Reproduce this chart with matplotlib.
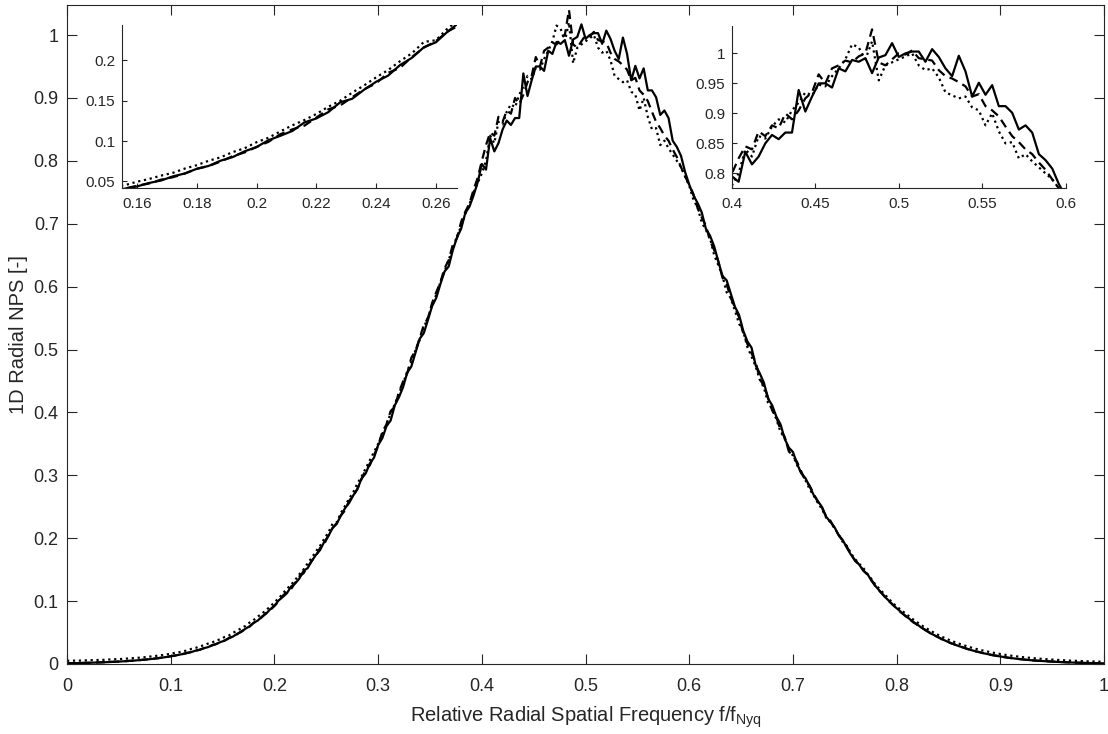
import matplotlib
matplotlib.use('Agg')
import matplotlib.pyplot as plt
from matplotlib.ticker import FuncFormatter
import numpy as np

# relative radial frequency grid (251 radial bins between 0 and f_Nyq)
freq = np.linspace(0, 1, 251)

nps_solid = [
    0.0010, 0.0011, 0.0013, 0.0014, 0.0016, 0.0018, 0.0020, 0.0022, 0.0025, 0.0027,
    0.0030, 0.0033, 0.0036, 0.0040, 0.0044, 0.0048, 0.0053, 0.0058, 0.0064, 0.0070,
    0.0077, 0.0084, 0.0093, 0.0101, 0.0111, 0.0122, 0.0134, 0.0146, 0.0160, 0.0175,
    0.0190, 0.0212, 0.0226, 0.0251, 0.0268, 0.0298, 0.0318, 0.0349, 0.0371, 0.0410,
    0.0436, 0.0479, 0.0509, 0.0561, 0.0597, 0.0655, 0.0691, 0.0756, 0.0800, 0.0872,
    0.0925, 0.1010, 0.1065, 0.1125, 0.1230, 0.1280, 0.1358, 0.1481, 0.1524, 0.1637,
    0.1735, 0.1811, 0.1942, 0.2033, 0.2164, 0.2225, 0.2360, 0.2475, 0.2560, 0.2680,
    0.2780, 0.2950, 0.3030, 0.3190, 0.3280, 0.3480, 0.3590, 0.3780, 0.3870, 0.4110,
    0.4240, 0.4400, 0.4630, 0.4730, 0.4950, 0.5170, 0.5260, 0.5470, 0.5690, 0.5820,
    0.6040, 0.6240, 0.6320, 0.6580, 0.6780, 0.6920, 0.7170, 0.7270, 0.7450, 0.7660,
    0.795, 0.786, 0.836, 0.815, 0.828, 0.850, 0.864, 0.857, 0.868, 0.868,
    0.939, 0.903, 0.928, 0.950, 0.950, 0.943, 0.975, 0.970, 0.989, 0.986,
    0.992, 0.967, 0.993, 0.997, 1.017, 0.994, 1.000, 1.003, 1.003, 0.986,
    1.007, 0.994, 0.975, 0.962, 0.996, 0.970, 0.928, 0.951, 0.931, 0.947,
    0.912, 0.912, 0.901, 0.873, 0.880, 0.868, 0.832, 0.822, 0.808, 0.782,
    0.762,
    0.745, 0.733, 0.718, 0.692, 0.681, 0.664, 0.640, 0.617, 0.610, 0.589,
    0.568, 0.555, 0.530, 0.513, 0.503, 0.475, 0.462, 0.447, 0.422, 0.411,
    0.393, 0.381, 0.358, 0.344, 0.337, 0.318, 0.303, 0.2955, 0.2825, 0.2685,
    0.2590, 0.2495, 0.2340, 0.2260, 0.2175, 0.2050, 0.1970, 0.1845, 0.1735, 0.1650,
    0.1575, 0.1480, 0.1425, 0.1315, 0.1230, 0.1155, 0.1075, 0.1013, 0.0943, 0.0885,
    0.0831, 0.0765, 0.0722, 0.0661, 0.0626, 0.0575, 0.0540, 0.0491, 0.0460, 0.0424,
    0.0392, 0.0362, 0.0334, 0.0308, 0.0284, 0.0262, 0.0240, 0.0220, 0.0202, 0.0186,
    0.0170, 0.0156, 0.0142, 0.0130, 0.0119, 0.0108, 0.0098, 0.0090, 0.0082, 0.0075,
    0.0068, 0.0062, 0.0056, 0.0051, 0.0047, 0.0043, 0.0039, 0.0035, 0.0032, 0.0029,
    0.0026, 0.0024, 0.0021, 0.0019, 0.0017, 0.0015, 0.0014, 0.0012, 0.0011, 0.0010,
]

nps_dashed = [
    0.0012, 0.0012, 0.0013, 0.0015, 0.0016, 0.0019, 0.0020, 0.0023, 0.0025, 0.0028,
    0.0031, 0.0033, 0.0037, 0.0040, 0.0045, 0.0049, 0.0053, 0.0059, 0.0064, 0.0071,
    0.0077, 0.0086, 0.0092, 0.0103, 0.0111, 0.0124, 0.0133, 0.0148, 0.0159, 0.0177,
    0.0190, 0.0211, 0.0227, 0.0252, 0.0270, 0.0298, 0.0318, 0.0350, 0.0373, 0.0410,
    0.0445, 0.0472, 0.0520, 0.0550, 0.0596, 0.0655, 0.0690, 0.0745, 0.0812, 0.0858,
    0.0925, 0.0990, 0.1085, 0.1145, 0.1190, 0.1290, 0.1393, 0.1441, 0.1544, 0.1642,
    0.1715, 0.1846, 0.1907, 0.2043, 0.2159, 0.2240, 0.2360, 0.2440, 0.2595, 0.2675,
    0.2785, 0.2940, 0.3090, 0.3160, 0.3320, 0.3470, 0.3690, 0.3810, 0.4020, 0.4090,
    0.4320, 0.4490, 0.4620, 0.4870, 0.4980, 0.5180, 0.5390, 0.5500, 0.5740, 0.5910,
    0.6070, 0.6290, 0.6420, 0.6670, 0.6770, 0.7030, 0.7190, 0.7320, 0.7540, 0.7730,
    0.800, 0.825, 0.845, 0.840, 0.870, 0.862, 0.880, 0.875, 0.900, 0.890,
    0.905, 0.925, 0.935, 0.965, 0.950, 0.975, 0.980, 0.988, 0.985, 0.995,
    1.000, 1.040, 0.985, 0.980, 0.990, 1.000, 0.998, 1.005, 0.992, 0.990,
    0.988, 0.972, 0.962, 0.958, 0.952, 0.945, 0.928, 0.932, 0.912, 0.905,
    0.895, 0.878, 0.862, 0.852, 0.840, 0.832, 0.818, 0.806, 0.790, 0.775,
    0.762,
    0.747, 0.725, 0.710, 0.697, 0.673, 0.658, 0.640, 0.614, 0.604, 0.582,
    0.567, 0.551, 0.526, 0.509, 0.494, 0.480, 0.453, 0.442, 0.423, 0.403,
    0.392, 0.372, 0.361, 0.338, 0.331, 0.321, 0.306, 0.292, 0.2835, 0.2705,
    0.2575, 0.2480, 0.2345, 0.2280, 0.2160, 0.2050, 0.1955, 0.1865, 0.1740, 0.1635,
    0.1580, 0.1485, 0.1415, 0.1330, 0.1220, 0.1150, 0.1085, 0.1005, 0.0948, 0.0885,
    0.0820, 0.0774, 0.0712, 0.0671, 0.0618, 0.0581, 0.0532, 0.0499, 0.0455, 0.0427,
    0.0389, 0.0365, 0.0331, 0.0310, 0.0282, 0.0264, 0.0239, 0.0222, 0.0201, 0.0187,
    0.0169, 0.0157, 0.0141, 0.0131, 0.0118, 0.0109, 0.0098, 0.0091, 0.0082, 0.0076,
    0.0068, 0.0063, 0.0056, 0.0052, 0.0047, 0.0044, 0.0039, 0.0036, 0.0032, 0.0030,
    0.0026, 0.0025, 0.0021, 0.0020, 0.0017, 0.0016, 0.0014, 0.0013, 0.0011, 0.0011,
]

nps_dotted = [
    0.0052, 0.0050, 0.0054, 0.0053, 0.0057, 0.0057, 0.0061, 0.0061, 0.0066, 0.0066,
    0.0071, 0.0072, 0.0077, 0.0079, 0.0085, 0.0087, 0.0094, 0.0097, 0.0105, 0.0109,
    0.0118, 0.0123, 0.0134, 0.0141, 0.0152, 0.0162, 0.0176, 0.0186, 0.0202, 0.0215,
    0.0240, 0.0256, 0.0280, 0.0297, 0.0325, 0.0343, 0.0375, 0.0393, 0.0430, 0.0452,
    0.0495, 0.0528, 0.0570, 0.0605, 0.0658, 0.0700, 0.0755, 0.0798, 0.0862, 0.0910,
    0.0985, 0.1040, 0.1120, 0.1195, 0.1260, 0.1335, 0.1425, 0.1500, 0.1600, 0.1690,
    0.1790, 0.1880, 0.1990, 0.2090, 0.2230, 0.2250, 0.2400, 0.2510, 0.2630, 0.2730,
    0.2870, 0.2980, 0.3110, 0.3240, 0.3370, 0.3500, 0.3660, 0.3810, 0.3980, 0.4130,
    0.4300, 0.4460, 0.4650, 0.4800, 0.4990, 0.5150, 0.5350, 0.5510, 0.5710, 0.5870,
    0.6070, 0.6240, 0.6430, 0.6600, 0.6800, 0.6960, 0.7150, 0.7310, 0.7500, 0.7650,
    0.780, 0.800, 0.840, 0.828, 0.862, 0.858, 0.878, 0.890, 0.885, 0.905,
    0.918, 0.935, 0.930, 0.948, 0.945, 0.962, 0.975, 0.990, 1.015, 1.010,
    0.990, 1.020, 0.955, 0.980, 0.985, 0.990, 0.995, 1.000, 0.980, 0.972,
    0.975, 0.960, 0.935, 0.930, 0.925, 0.928, 0.910, 0.905, 0.880, 0.900,
    0.870, 0.850, 0.852, 0.825, 0.832, 0.820, 0.810, 0.800, 0.790, 0.775,
    0.760,
    0.738, 0.726, 0.702, 0.690, 0.677, 0.650, 0.634, 0.617, 0.591, 0.582,
    0.562, 0.541, 0.529, 0.504, 0.489, 0.473, 0.452, 0.439, 0.415, 0.405,
    0.389, 0.369, 0.359, 0.341, 0.331, 0.316, 0.3035, 0.2925, 0.2780, 0.2675,
    0.2560, 0.2460, 0.2325, 0.2255, 0.2160, 0.2055, 0.1940, 0.1875, 0.1755, 0.1665,
    0.1590, 0.1520, 0.1425, 0.1345, 0.1250, 0.1185, 0.1110, 0.1045, 0.0970, 0.0915,
    0.0860, 0.0808, 0.0755, 0.0706, 0.0660, 0.0615, 0.0573, 0.0534, 0.0497, 0.0462,
    0.0430, 0.0400, 0.0372, 0.0347, 0.0323, 0.0301, 0.0280, 0.0260, 0.0242, 0.0226,
    0.0210, 0.0196, 0.0182, 0.0170, 0.0159, 0.0147, 0.0137, 0.0128, 0.0120, 0.0112,
    0.0104, 0.0098, 0.0091, 0.0085, 0.0081, 0.0076, 0.0071, 0.0067, 0.0063, 0.0059,
    0.0056, 0.0053, 0.0050, 0.0047, 0.0044, 0.0042, 0.0040, 0.0038, 0.0036, 0.0035,
]

main_ticks = [0, 0.1, 0.2, 0.3, 0.4, 0.5, 0.6, 0.7, 0.8, 0.9, 1]
inset1_xticks = [0.16, 0.18, 0.2, 0.22, 0.24, 0.26]
inset1_yticks = [0.05, 0.1, 0.15, 0.2]
inset2_xticks = [0.4, 0.45, 0.5, 0.55, 0.6]
inset2_yticks = [0.8, 0.85, 0.9, 0.95, 1]

AX_COLOR = '#262626'
LW = 1.6

plt.rcParams['font.family'] = ['Liberation Sans', 'DejaVu Sans']
plt.rcParams['mathtext.fontset'] = 'custom'
plt.rcParams['mathtext.rm'] = 'Liberation Sans'
plt.rcParams['mathtext.it'] = 'Liberation Sans'


def g_fmt(v, pos):
    return '%g' % v


def draw_curves(ax):
    ax.plot(freq, nps_solid, color='black', linestyle='-', linewidth=LW)
    ax.plot(freq, nps_dashed, color='black', linestyle='--', linewidth=LW,
            dashes=(4, 2.5))
    ax.plot(freq, nps_dotted, color='black', linestyle=':', linewidth=LW)


def style_axes(ax, size, ticklen, mirror, xpad, ypad):
    for side in ax.spines:
        ax.spines[side].set_color(AX_COLOR)
        ax.spines[side].set_linewidth(0.8)
    if not mirror:
        ax.spines['top'].set_visible(False)
        ax.spines['right'].set_visible(False)
    ax.tick_params(direction='in', length=ticklen, width=0.8, colors=AX_COLOR,
                   labelsize=size, top=mirror, right=mirror)
    ax.tick_params(axis='x', pad=xpad)
    ax.tick_params(axis='y', pad=ypad)
    ax.xaxis.set_major_formatter(FuncFormatter(g_fmt))
    ax.yaxis.set_major_formatter(FuncFormatter(g_fmt))


def main():
    fig = plt.figure(figsize=(11.08, 7.34), dpi=100)

    ax = fig.add_axes([0.0605, 0.0954, 0.936, 0.898])
    draw_curves(ax)
    ax.set_xlim(0, 1)
    ax.set_ylim(0, 1.048)
    ax.set_xticks(main_ticks)
    ax.set_yticks(main_ticks)
    style_axes(ax, 13, 7.5, True, 10, 6)
    ax.set_xlabel(r'Relative Radial Spatial Frequency f/f$_{\rm Nyq}$',
                  fontsize=14.5, color=AX_COLOR, labelpad=7)
    ax.set_ylabel('1D Radial NPS [-]', fontsize=14.5, color=AX_COLOR, labelpad=4)

    # inset: low-frequency flank
    ax1 = fig.add_axes([0.1101, 0.7442, 0.3022, 0.2218])
    draw_curves(ax1)
    ax1.set_xlim(0.155, 0.267)
    ax1.set_ylim(0.042, 0.244)
    ax1.set_xticks(inset1_xticks)
    ax1.set_yticks(inset1_yticks)
    style_axes(ax1, 11, 3.5, False, 7, 5)

    # inset: peak region
    ax2 = fig.add_axes([0.6606, 0.7442, 0.3011, 0.2203])
    draw_curves(ax2)
    ax2.set_xlim(0.4, 0.6)
    ax2.set_ylim(0.776, 1.0455)
    ax2.set_xticks(inset2_xticks)
    ax2.set_yticks(inset2_yticks)
    style_axes(ax2, 11, 3.5, False, 7, 5)

    fig.savefig('out.png', dpi=100)


if __name__ == '__main__':
    main()
